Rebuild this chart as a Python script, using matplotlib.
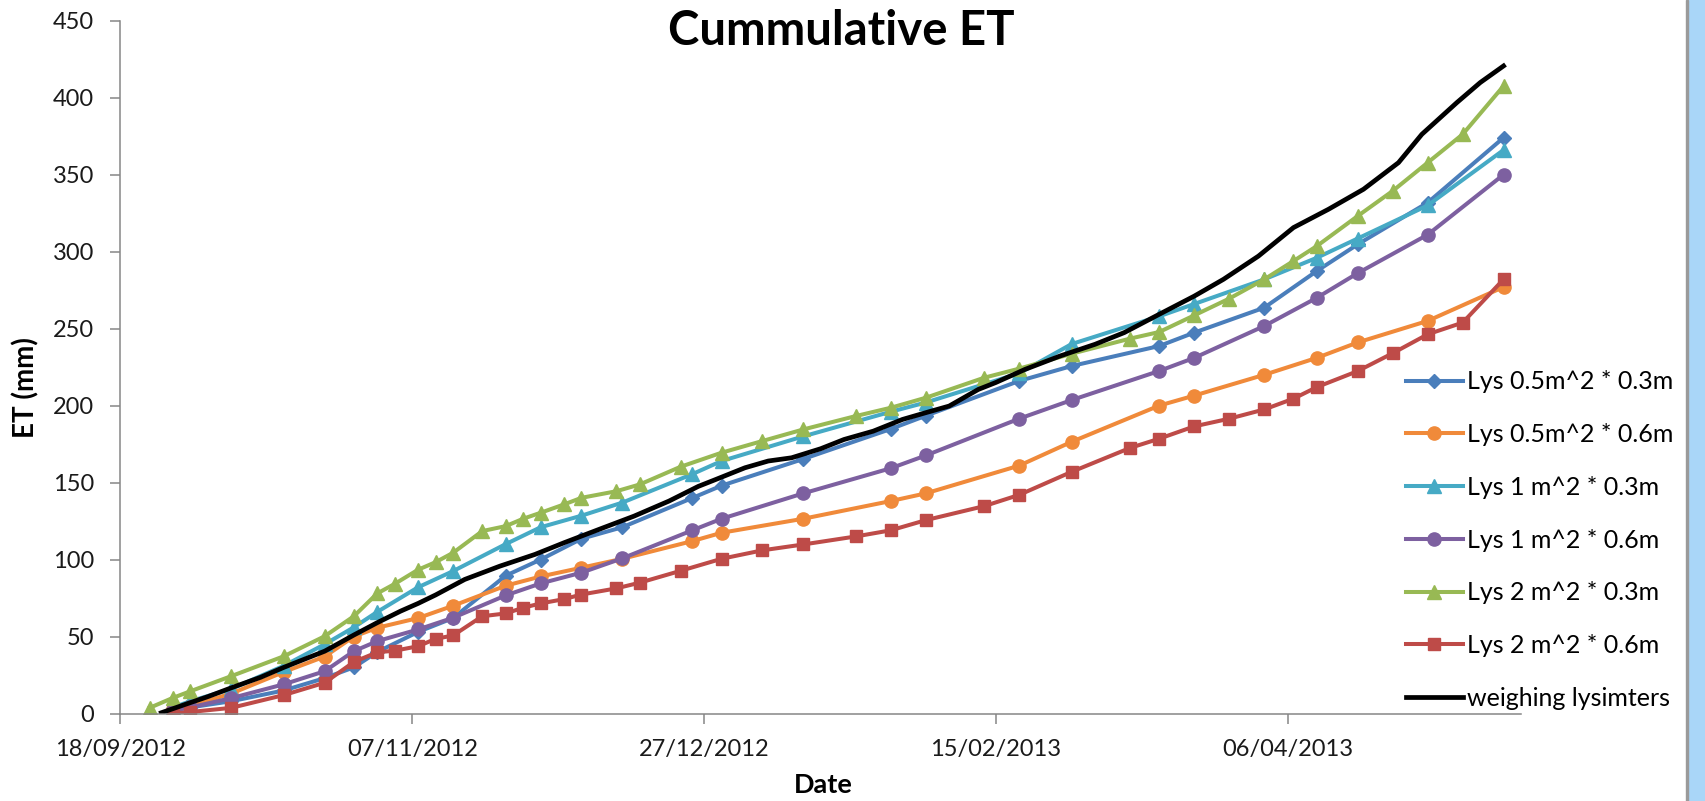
import matplotlib
matplotlib.use("Agg")
import matplotlib.pyplot as plt
import matplotlib.dates as mdates
from matplotlib.patches import Rectangle
import pandas as pd

plt.rcParams['font.family'] = ['Lato', 'DejaVu Sans']

# dates des lysimetres 2 m^2 (vert + rouge), le vert commence un relevé plus tot
dates_2m = ["2012-09-27", "2012-09-30", "2012-10-07", "2012-10-16", "2012-10-23", "2012-10-28",
            "2012-11-01", "2012-11-04", "2012-11-08", "2012-11-11", "2012-11-14", "2012-11-19",
            "2012-11-23", "2012-11-26", "2012-11-29", "2012-12-03", "2012-12-06", "2012-12-12",
            "2012-12-16", "2012-12-23", "2012-12-30", "2013-01-06", "2013-01-13", "2013-01-22",
            "2013-01-28", "2013-02-03", "2013-02-13", "2013-02-19", "2013-02-28", "2013-03-10",
            "2013-03-15", "2013-03-21", "2013-03-27", "2013-04-02", "2013-04-07", "2013-04-11",
            "2013-04-18", "2013-04-24", "2013-04-30", "2013-05-06", "2013-05-13"]
dates_2m_03 = ["2012-09-23"] + dates_2m

# dates des lysimetres 0.5 et 1 m^2
dates_small = ["2012-09-27", "2012-09-30", "2012-10-07", "2012-10-16", "2012-10-23", "2012-10-28",
               "2012-11-01", "2012-11-08", "2012-11-14", "2012-11-23", "2012-11-29", "2012-12-06",
               "2012-12-13", "2012-12-25", "2012-12-30", "2013-01-13", "2013-01-28", "2013-02-03",
               "2013-02-19", "2013-02-28", "2013-03-15", "2013-03-21", "2013-04-02", "2013-04-11",
               "2013-04-18", "2013-04-30", "2013-05-13"]

et_05_03 = [2, 4, 8, 15, 23, 30, 40, 53, 62, 89.5, 100, 113.5, 121, 140, 148, 165.3, 184.8,
            193.4, 216, 225.7, 238.7, 247.4, 263.6, 287.4, 304.7, 331.8, 374]
et_05_06 = [3, 5, 13, 27, 37, 50, 55.7, 62, 70, 83, 89, 94.7, 100.5, 112, 117.4, 126.5, 138,
            143, 161, 176.5, 200, 206.5, 220, 231, 241, 255, 277]
et_1_03 = [4, 8, 16, 31, 45, 56, 66, 82, 92.5, 110, 121, 128.5, 137, 155.5, 164, 180, 196,
           202, 221, 240, 258, 266, 282, 296, 308.5, 330, 366]
et_1_06 = [2, 4, 10, 19, 27.5, 40.5, 47, 54.6, 62.2, 76.7, 84.5, 91.5, 100.8, 119, 126.5, 143,
           159.3, 167.6, 191.5, 203.6, 222.5, 231, 251.7, 270, 286, 311, 350]
et_2_03 = [3.7, 10.2, 14.5, 24.3, 37.2, 50.2, 63.2, 78.0, 84.2, 93.4, 98.3, 104.4, 118.5, 121.7,
           126.5, 130.4, 135.8, 140.1, 144.4, 148.8, 160.3, 169.4, 177.0, 184.5, 193.2, 198.6,
           205.1, 218.1, 224.0, 233.7, 243.5, 247.8, 258.6, 269.5, 282.0, 293.9, 303.6, 323.1,
           339.4, 357.8, 376.2, 407.6]
et_2_06 = [0, 1, 3.7, 12, 20, 33.5, 39.8, 40.8, 43.7, 48.5, 50.7, 63.2, 65, 68.7, 71.5, 74.3,
           77.3, 81.3, 85, 92.7, 100.5, 106, 109.8, 115, 119, 125.6, 134.7, 142, 157, 172.5,
           178.5, 186.5, 191.5, 197.5, 204.5, 212, 222.4, 234, 246.3, 253.9, 282]

# lysimetres pesants (courbe noire)
dates_pesee = ["2012-09-25", "2012-09-29", "2012-10-03", "2012-10-07", "2012-10-12", "2012-10-16",
               "2012-10-20", "2012-10-23", "2012-10-28", "2012-11-01", "2012-11-05", "2012-11-08",
               "2012-11-11", "2012-11-16", "2012-11-22", "2012-11-28", "2012-12-03", "2012-12-09",
               "2012-12-15", "2012-12-21", "2012-12-26", "2012-12-29", "2013-01-03", "2013-01-07",
               "2013-01-11", "2013-01-16", "2013-01-20", "2013-01-25", "2013-01-30", "2013-02-03",
               "2013-02-07", "2013-02-12", "2013-02-15", "2013-02-20", "2013-02-26", "2013-03-04",
               "2013-03-09", "2013-03-15", "2013-03-21", "2013-03-26", "2013-04-01", "2013-04-07",
               "2013-04-13", "2013-04-19", "2013-04-25", "2013-04-29", "2013-05-05", "2013-05-09",
               "2013-05-13"]
et_pesee = [0.5, 5.8, 11, 16.7, 23.5, 30, 36, 40.5, 51, 59, 66.5, 71.5, 77, 87.1, 95.7, 103.3,
            110.9, 119.6, 128.2, 138, 147.5, 152, 159.6, 164, 166.1, 172, 178, 183.4, 191, 195.4,
            199.7, 210.5, 215, 223.5, 232.2, 239.8, 247.4, 259.3, 271.1, 282, 297.1, 315.6, 327.5,
            340.5, 357.8, 376.2, 396.8, 409.8, 420.6]

series = [
    ("Lys 0.5m^2 * 0.3m", dates_small, et_05_03, "#4A7EBB", "D", 7.5),
    ("Lys 0.5m^2 * 0.6m", dates_small, et_05_06, "#F08A3A", "o", 9.5),
    ("Lys 1 m^2 * 0.3m", dates_small, et_1_03, "#46AAC5", "^", 10.5),
    ("Lys 1 m^2 * 0.6m", dates_small, et_1_06, "#7D60A0", "o", 9.5),
    ("Lys 2 m^2 * 0.3m", dates_2m_03, et_2_03, "#98B954", "^", 10.5),
    ("Lys 2 m^2 * 0.6m", dates_2m, et_2_06, "#BE4B48", "s", 8),
]

fig = plt.figure(figsize=(17.06, 8.01), dpi=100)
ax = fig.add_axes([0.0706, 0.1092, 0.8210, 0.8650])

for nom, d, v, c, m, ms in series:
    ax.plot(pd.to_datetime(d), v, color=c, marker=m, markersize=ms, linewidth=2.9,
            markeredgecolor=c, markerfacecolor=c, label=nom)
ax.plot(pd.to_datetime(dates_pesee), et_pesee, color="black", linewidth=3.4,
        label="weighing lysimters")

ax.set_ylim(0, 450)
ax.set_yticks(range(0, 451, 50))
ax.set_xlim(pd.Timestamp("2012-09-18"), pd.Timestamp("2013-05-16"))
ax.set_xticks(pd.date_range("2012-09-18", periods=5, freq="50D"))
ax.xaxis.set_major_formatter(mdates.DateFormatter("%d/%m/%Y"))

for s in ["top", "right"]:
    ax.spines[s].set_visible(False)
for s in ["left", "bottom"]:
    ax.spines[s].set_color("#868686")
    ax.spines[s].set_linewidth(1.1)
ax.tick_params(axis="both", colors="#868686", length=7, width=1.1, labelsize=17,
               labelcolor="#1a1a1a")
ax.tick_params(axis="y", pad=12)
ax.tick_params(axis="x", pad=11)

fig.text(841 / 1706, 1 - 45 / 801, "Cummulative ET", fontsize=34, fontweight="bold",
         ha="center", va="baseline")
fig.text(823.6 / 1706, 1 - 793 / 801, "Date", fontsize=19.5, fontweight="bold",
         ha="center", va="baseline")
fig.text(26 / 1706, 1 - 388 / 801, "ET (mm)", fontsize=20, fontweight="bold",
         rotation=90, ha="center", va="center")

fig.legend(loc="center left", bbox_to_anchor=(1406 / 1706, 1 - 540 / 801), frameon=False,
           fontsize=18, handlelength=2.27, handletextpad=0.18, labelspacing=1.19,
           borderpad=0, borderaxespad=0, numpoints=1)

# bande bleue a droite (capture d'ecran)
fig.patches.append(Rectangle((1689 / 1706, 0), 17 / 1706, 1, transform=fig.transFigure,
                             color="#A9D6F8", zorder=0))
fig.patches.append(Rectangle((1686 / 1706, 0), 2.5 / 1706, 1, transform=fig.transFigure,
                             color="#9a9a9a", zorder=0))

fig.savefig("out.png", dpi=100)
